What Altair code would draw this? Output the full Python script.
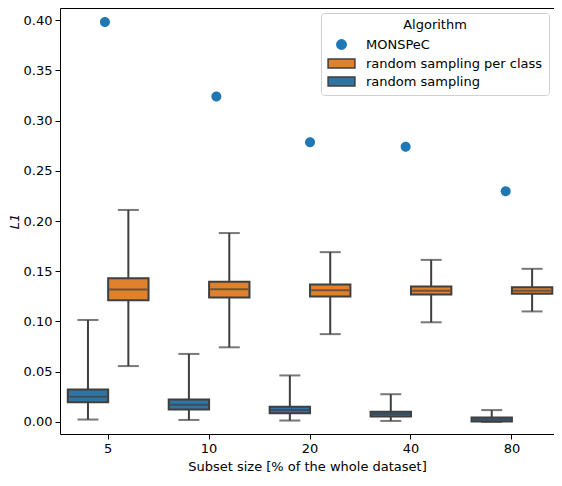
import altair as alt
import pandas as pd

sizes = ["5", "10", "20", "40", "80"]
algs = ["MONSPeC", "random sampling per class", "random sampling"]
box_algs = ["random sampling", "random sampling per class"]

# random sampling per class (orange)
rspc_lower = [0.0556, 0.0743, 0.0874, 0.0992, 0.1100]
rspc_q1 = [0.1212, 0.1238, 0.1248, 0.1268, 0.1275]
rspc_median = [0.1317, 0.1320, 0.1310, 0.1307, 0.1307]
rspc_q3 = [0.1429, 0.1396, 0.1367, 0.1347, 0.1340]
rspc_upper = [0.2110, 0.1880, 0.1690, 0.1613, 0.1524]

# random sampling (blue)
rs_lower = [0.0024, 0.0020, 0.0014, 0.0010, 0.0000]
rs_q1 = [0.0197, 0.0125, 0.0086, 0.0053, 0.0004]
rs_median = [0.0250, 0.0171, 0.0118, 0.0079, 0.0025]
rs_q3 = [0.0322, 0.0224, 0.0152, 0.0102, 0.0045]
rs_upper = [0.1015, 0.0677, 0.0463, 0.0276, 0.0118]

# MONSPeC single values and their strip jitter (fraction of category step)
monspec = [0.398, 0.324, 0.2785, 0.274, 0.2296]
monspec_jitter = [-0.04, 0.09, 0.0, -0.066, -0.077]

y_ticks = [0.0, 0.05, 0.10, 0.15, 0.20, 0.25, 0.30, 0.35, 0.40]

rows = []
for i, s in enumerate(sizes):
    rows.append(dict(size=s, alg="random sampling", lower=rs_lower[i], q1=rs_q1[i],
                     median=rs_median[i], q3=rs_q3[i], upper=rs_upper[i]))
    rows.append(dict(size=s, alg="random sampling per class", lower=rspc_lower[i], q1=rspc_q1[i],
                     median=rspc_median[i], q3=rspc_q3[i], upper=rspc_upper[i]))
boxes = pd.DataFrame(rows)
points = pd.DataFrame({"size": sizes, "alg": "MONSPeC", "value": monspec, "jit": monspec_jitter})

DARK = "#3f3f3f"
FONT = "DejaVu Sans"
circle_path = "M0.7,0A0.7,0.7,0,1,1,-0.7,0A0.7,0.7,0,1,1,0.7,0Z"
rect_path = "M-2,-0.67H2V0.67H-2Z"

x_enc = alt.X("size:N", sort=sizes,
              scale=alt.Scale(paddingInner=0.2, paddingOuter=0.047, align=0.82),
              axis=alt.Axis(title="Subset size [% of the whole dataset]", labelAngle=0))
xoff = alt.XOffset("alg:N", sort=box_algs,
                   scale=alt.Scale(domain=box_algs, paddingInner=0, paddingOuter=0))
y_scale = alt.Scale(domain=[-0.012, 0.412], nice=False, zero=False)
y_axis = alt.Axis(title="L1", values=y_ticks, format=".2f", titleFontStyle="italic")

color_scale = alt.Scale(domain=algs, range=["#1f77b4", "#e1812c", "#3274a1"])
stroke_scale = alt.Scale(domain=algs, range=["#1f77b4", DARK, DARK])
shape_scale = alt.Scale(domain=algs, range=[circle_path, rect_path, rect_path])
legend = alt.Legend(title="Algorithm")

base = alt.Chart(boxes)

whisk = base.mark_rule(color=DARK, strokeWidth=2).encode(
    x=x_enc, xOffset=xoff,
    y=alt.Y("lower:Q", scale=y_scale, axis=y_axis), y2="upper:Q")
cap_lo = base.mark_tick(color=DARK, size=21, thickness=2, orient="horizontal").encode(
    x=x_enc, xOffset=xoff, y=alt.Y("lower:Q"))
cap_hi = base.mark_tick(color=DARK, size=21, thickness=2, orient="horizontal").encode(
    x=x_enc, xOffset=xoff, y=alt.Y("upper:Q"))
box = base.mark_bar(strokeWidth=2, opacity=1).encode(
    x=x_enc, xOffset=xoff,
    y=alt.Y("q1:Q"), y2="q3:Q",
    color=alt.Color("alg:N", scale=color_scale, legend=legend),
    stroke=alt.Stroke("alg:N", scale=stroke_scale, legend=legend))
med = base.mark_tick(color=DARK, size=38, thickness=2, orient="horizontal").encode(
    x=x_enc, xOffset=xoff, y=alt.Y("median:Q"))

pts = alt.Chart(points).mark_point(filled=True, opacity=1, size=204, strokeWidth=0).encode(
    x=x_enc,
    xOffset=alt.XOffset("jit:Q", scale=alt.Scale(domain=[-0.5, 0.5])),
    y=alt.Y("value:Q"),
    color=alt.Color("alg:N", scale=color_scale, legend=legend),
    stroke=alt.Stroke("alg:N", scale=stroke_scale, legend=legend),
    shape=alt.Shape("alg:N", scale=shape_scale, legend=legend))

chart = alt.layer(whisk, cap_lo, cap_hi, box, med, pts).resolve_scale(
    xOffset="independent"
).properties(
    width=494, height=426,
    padding={"left": 0, "top": 0, "right": 0, "bottom": 0},
).configure_view(
    stroke="black", strokeWidth=1
).configure_axis(
    labelFont=FONT, titleFont=FONT, labelFontSize=13, titleFontSize=13,
    labelColor="black", titleColor="black", titleFontWeight="normal",
    tickColor="black", tickSize=5, tickWidth=1, domain=False, grid=False,
    labelPadding=3,
).configure_axisY(
    titlePadding=2
).configure_axisX(
    titlePadding=5
).configure_legend(
    orient="top-right", offset=5, padding=6,
    strokeColor="#d0d0d0", cornerRadius=3, fillColor="white",
    titleFont=FONT, labelFont=FONT, titleFontSize=13, labelFontSize=13,
    titleFontWeight="normal", titleColor="black", labelColor="black",
    titleAnchor="middle", titlePadding=5,
    symbolSize=180, symbolStrokeWidth=1.5, symbolOffset=7, labelOffset=17, rowPadding=3,
    labelLimit=400,
)

chart.save("out.html", embed_options={"renderer": "svg", "actions": False})
